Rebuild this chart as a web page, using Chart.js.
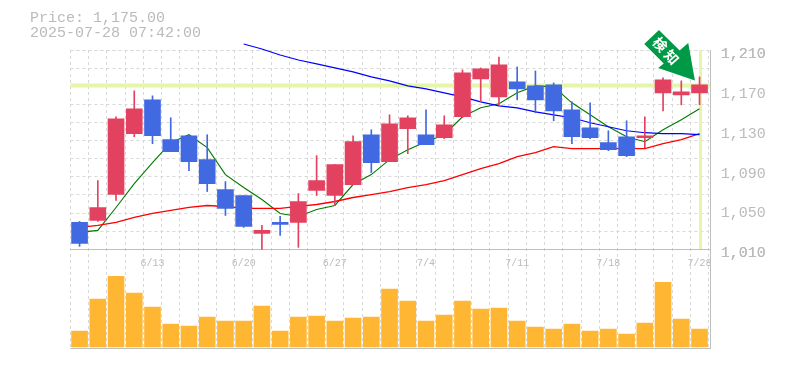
<!DOCTYPE html>
<html>
<head>
<meta charset="utf-8">
<style>html,body{margin:0;padding:0;background:#fff}#w{width:785px;height:370px}</style>
<script src="https://cdn.jsdelivr.net/npm/chart.js@4/dist/chart.umd.min.js"></script>
</head>
<body>
<div id="w"><canvas id="c" width="785" height="370"></canvas></div>
<script>
const titleLines = ['Price: 1,175.00', '2025-07-28 07:42:00'];
const currentPrice = 1175;
const badgeText = '検知';
const dates = ['6/9','6/10','6/11','6/12','6/13','6/16','6/17','6/18','6/19','6/20','6/23','6/24','6/25','6/26','6/27','6/30','7/1','7/2','7/3','7/4','7/7','7/8','7/9','7/10','7/11','7/14','7/15','7/16','7/17','7/18','7/22','7/23','7/24','7/25','7/28'];
const shownDates = ['6/13','6/20','6/27','7/4','7/11','7/18','7/28'];
const priceTicks = [1010,1050,1090,1130,1170,1210];
const open  = [1037,1039,1065,1126,1160,1120,1124,1100,1070,1064,1026,1037,1037,1069,1064,1075,1125,1098,1131,1125,1122,1143,1181,1163,1178,1174,1175,1150,1132,1117,1123,1122,1167,1165,1167];
const close = [1016,1052,1141,1151,1124,1108,1098,1076,1051,1033,1029,1035,1058,1079,1095,1118,1097,1136,1142,1115,1135,1187,1191,1195,1171,1160,1149,1123,1122,1110,1104,1124,1180,1168,1175];
const high  = [1038,1079,1143,1169,1164,1142,1125,1125,1078,1064,1034,1043,1066,1104,1095,1124,1130,1145,1144,1150,1144,1190,1192,1203,1193,1189,1177,1158,1157,1129,1139,1143,1182,1179,1183];
const low   = [1013,1038,1059,1123,1116,1108,1089,1068,1044,1032,1010,1024,1012,1064,1054,1075,1087,1098,1106,1115,1121,1142,1158,1155,1160,1147,1139,1116,1121,1109,1103,1112,1149,1155,1155];
const maShort = [1027,1029,1052,1076,1097,1117,1125,1112,1085,1072,1060,1046,1043,1050,1054,1075,1085,1100,1110,1118,1125,1143,1152,1156,1167,1174,1173,1157,1145,1133,1123,1118,1130,1140,1151];
const maMid   = [1032,1034,1037,1042,1046,1049,1052,1054,1053,1051,1051,1051,1053,1055,1058,1062,1065,1068,1072,1075,1079,1085,1091,1096,1103,1107,1113,1111,1111,1111,1111,1111,1116,1120,1126];
const maLong  = [null,null,null,null,null,null,null,null,null,1216,1211,1205,1200,1196,1192,1188,1183,1179,1174,1171,1167,1163,1158,1154,1152,1148,1145,1142,1137,1133,1129,1127,1126,1126,1125];
const volume  = [16,48,71,54,40,23,21,30,26,26,41,16,30,31,26,29,30,58,46,26,32,46,38,39,26,20,18,23,16,18,13,24,65,28,18];

const RED = '#e34160', BLUE = '#4169e1', ORANGE = '#ffb733', GRID = '#d8d8d8', AXIS = '#bfbfbf', TXT = '#bbbbbb', PALE = '#e5f6a8';
const MONO = '"Liberation Mono","DejaVu Sans Mono",monospace';
const candleColors = open.map((o, i) => close[i] >= o ? RED : BLUE);
const allTicks = priceTicks.concat(Array.from({length: 12}, (_, i) => priceTicks[0] + i * (priceTicks[5] - priceTicks[0]) / 11));

const frame = {
  id: 'frame',
  beforeDatasetsDraw(chart) {
    const {ctx, chartArea: a, scales} = chart;
    const yp = Math.round(scales.y.getPixelForValue(currentPrice)) ;
    const xp = Math.round(scales.x.getPixelForValue(dates.length - 1));
    const xr = Math.round(a.right + 1.8) + .5;
    ctx.save();
    ctx.strokeStyle = PALE; ctx.lineWidth = 4;
    ctx.beginPath(); ctx.moveTo(a.left, yp + .5); ctx.lineTo(xr, yp + .5); ctx.stroke();
    ctx.lineWidth = 3;
    ctx.beginPath(); ctx.moveTo(xp + .5, a.top); ctx.lineTo(xp + .5, scales.y.getPixelForValue(priceTicks[0])); ctx.stroke();
    ctx.strokeStyle = AXIS; ctx.lineWidth = 1;
    const y0 = Math.round(scales.y.getPixelForValue(priceTicks[0])) + .5;
    ctx.beginPath();
    ctx.moveTo(a.left, y0); ctx.lineTo(xr, y0);
    ctx.moveTo(a.left, a.bottom - .5); ctx.lineTo(xr, a.bottom - .5);
    ctx.moveTo(xr, a.top); ctx.lineTo(xr, a.bottom);
    ctx.stroke();
    ctx.restore();
  },
  afterDatasetsDraw(chart) {
    const {ctx, scales} = chart;
    const tx = scales.x.getPixelForValue(dates.length - 1) - 4.6;
    const ty = scales.y.getPixelForValue(currentPrice) - 4.5;
    const pts = [[-36,-50.5],[-50.7,-36.5],[-31.2,-16.8],[-36.7,-12.5],[0,0],[-6.7,-37.5],[-15.3,-29.8]];
    ctx.save();
    ctx.translate(tx, ty);
    ctx.fillStyle = '#009a46';
    ctx.beginPath();
    pts.forEach((p, i) => i ? ctx.lineTo(p[0], p[1]) : ctx.moveTo(p[0], p[1]));
    ctx.closePath(); ctx.fill();
    ctx.translate(-28, -28.5);
    ctx.rotate(48 * Math.PI / 180);
    ctx.fillStyle = '#fff';
    ctx.font = 'bold 14px "Noto Sans CJK JP"';
    ctx.letterSpacing = '3px';
    ctx.textAlign = 'center'; ctx.textBaseline = 'middle';
    ctx.fillText(badgeText, 0, 0);
    ctx.restore();
  }
};

new Chart(document.getElementById('c'), {
  data: {
    labels: dates,
    datasets: [
      {type:'line', data: maLong,  borderColor:'#0000ff', borderWidth:1.2, pointRadius:0, tension:0, clip:false, order:3, yAxisID:'y', spanGaps:false},
      {type:'line', data: maMid,   borderColor:'#ff0000', borderWidth:1.3, pointRadius:0, tension:0, order:3, yAxisID:'y'},
      {type:'line', data: maShort, borderColor:'#007a00', borderWidth:1.1, pointRadius:0, tension:0, order:3, yAxisID:'y'},
      {type:'bar', data: high.map((h, i) => [low[i], h]), backgroundColor: candleColors, barThickness:1, order:2, yAxisID:'y', clip:false},
      {type:'bar', data: open.map((o, i) => [o, close[i]]), backgroundColor: candleColors, barThickness:16, order:1, yAxisID:'y'},
      {type:'bar', data: volume, backgroundColor: ORANGE, barThickness:16, order:1, yAxisID:'vol'}
    ]
  },
  plugins: [frame],
  options: {
    responsive: false,
    animation: false,
    layout: {autoPadding:false, padding: {left:30, top:10.5, right:0, bottom:20}},
    plugins: {
      legend: {display:false},
      tooltip: {enabled:false},
      title: {
        display:true, text:titleLines, align:'start', color:TXT,
        font:{family:MONO, size:15, weight:'normal', lineHeight:1},
        padding:{top:0, bottom:9.5}
      }
    },
    scales: {
      x: {
        type:'category', stacked:true, position:{y:priceTicks[0]}, offset:true,
        afterFit(s){ s.height = 0; },
        grid:{display:true, offset:true, color:GRID, lineWidth:1, drawTicks:false},
        border:{display:false, dash:[3,3]},
        ticks:{
          autoSkip:false, maxRotation:0, minRotation:0, padding:8, color:TXT,
          font:{family:MONO, size:10},
          callback(v){ const d = this.getLabelForValue(v); return shownDates.includes(d) ? d : ''; }
        }
      },
      spacer: {
        type:'linear', position:'left', afterFit(s){ s.width = 40.45; },
        grid:{display:false}, border:{display:false}, ticks:{display:false}
      },
      y: {
        type:'linear', position:'right', stack:'panels', stackWeight:2,
        min:priceTicks[0], max:priceTicks[5],
        afterFit(s){ s.width = 76.35; },
        afterBuildTicks(s){ s.ticks = allTicks.map(v => ({value:v})); },
        grid:{
          drawTicks:false, lineWidth:1,
          color(ctx){
            const v = ctx.tick && ctx.tick.value;
            return (priceTicks.includes(v) && v !== priceTicks[0] && v !== priceTicks[5]) ? 'rgba(0,0,0,0)' : GRID;
          }
        },
        border:{display:false, dash:[3,3]},
        ticks:{
          autoSkip:false, padding:12, labelOffset:4, color:TXT,
          font:{family:MONO, size:15},
          callback(v){ return priceTicks.includes(v) ? v.toLocaleString('en-US') : ''; }
        }
      },
      vol: {
        type:'linear', position:'right', stack:'panels', stackWeight:1,
        min:-2, max:98,
        afterFit(s){ s.width = 76.35; },
        grid:{display:false}, border:{display:false}, ticks:{display:false}
      }
    }
  }
});
</script>
</body>
</html>
